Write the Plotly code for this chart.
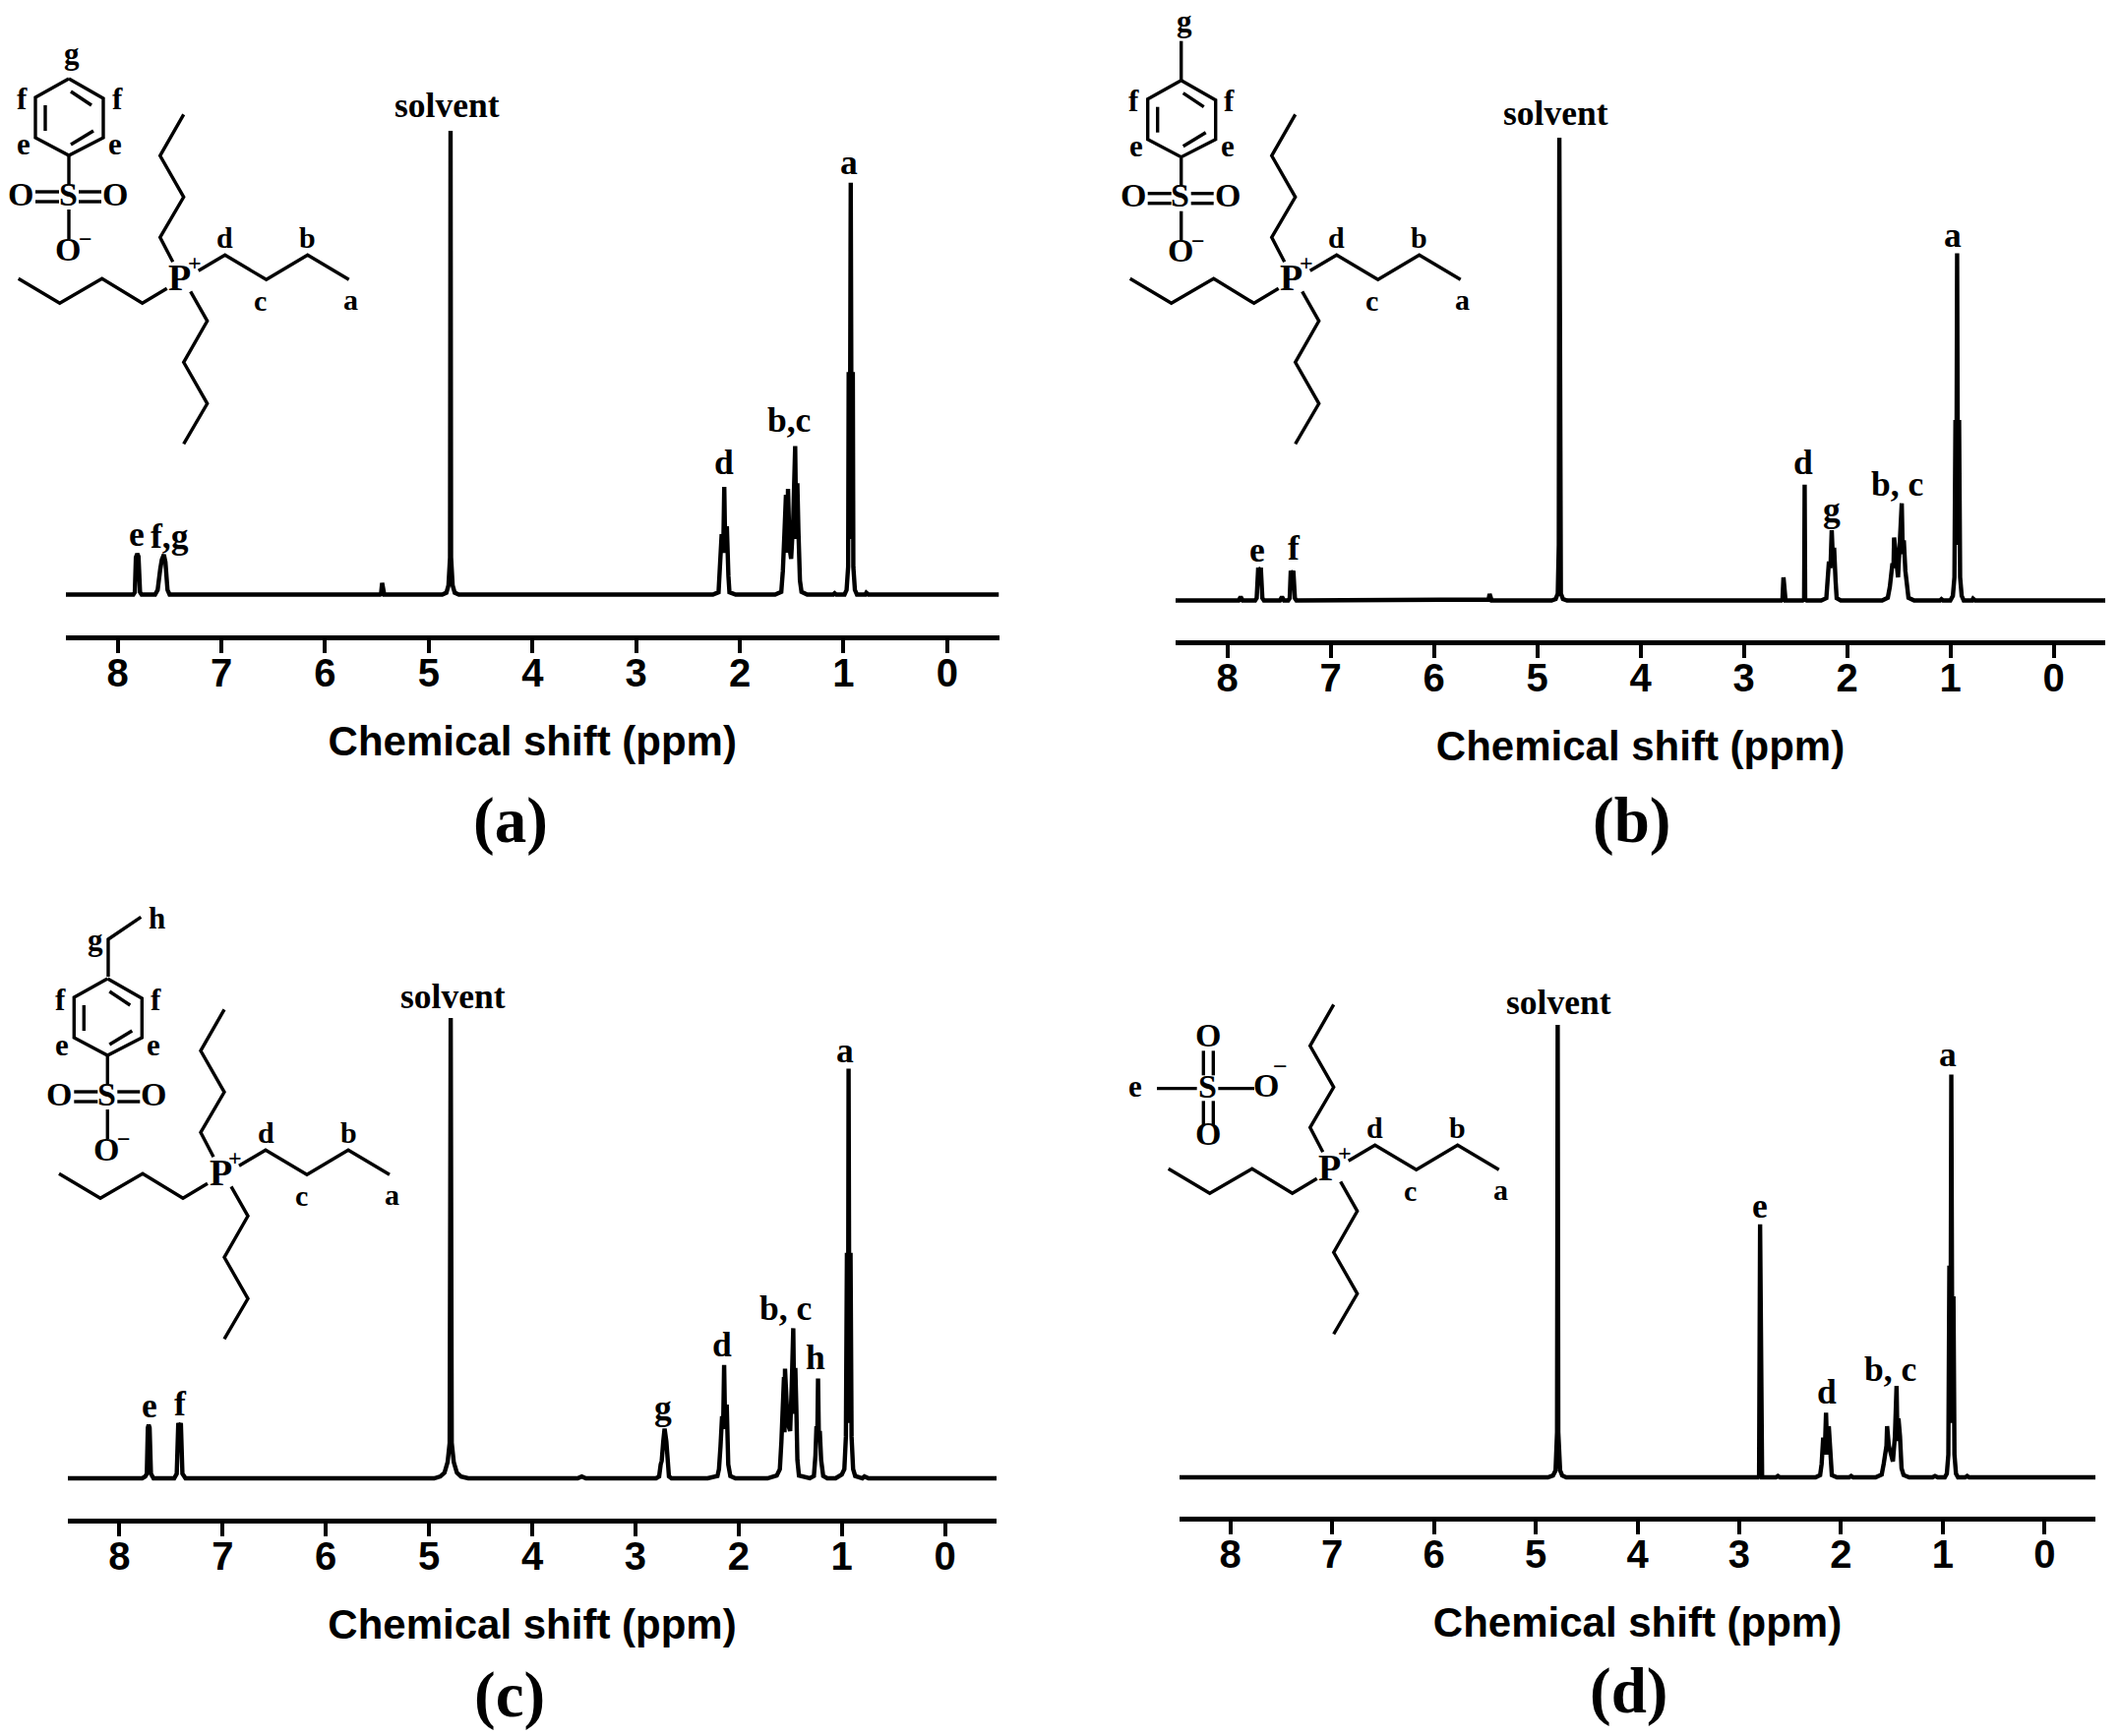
import plotly.graph_objects as go

W, H = 2155, 1765

# chemical shift (ppm) and intensity (% of the solvent peak)
ppm_a = [8.5,7.85,7.835,7.825,7.812,7.80,7.785,7.77,7.64,7.615,7.59,7.575,7.555,7.54,7.52,7.50,5.47,5.46,5.45,5.44,5.43,4.87,4.83,4.81,4.795,4.79,4.785,4.77,4.75,4.71,2.26,2.205,2.195,2.175,2.16,2.15,2.14,2.125,2.11,2.10,2.04,1.66,1.60,1.585,1.57,1.555,1.545,1.535,1.52,1.505,1.485,1.466,1.455,1.445,1.435,1.42,1.405,1.35,1.10,1.086,1.07,0.99,0.97,0.955,0.95,0.94,0.93,0.92,0.91,0.905,0.89,0.87,0.79,0.78,0.76,-0.5]
int_a = [0,0,0.5,8.0,8.8,8.2,0.5,0,0,1,5.5,7.5,8.6,7,1,0,0,0.2,2.5,0.2,0,0,0.4,2,8,100,8,2,0.4,0,0,0.5,4,13,9,23.2,9,14.7,4,0.5,0,0,0.6,5,13,21.5,9,22.8,10,7.7,16,32,12,24,14,3,0.6,0,0,0.3,0,0,1,6,48,12,88.8,12,48,6,1,0,0,0.4,0,0]

ppm_b = [8.5,7.89,7.87,7.85,7.73,7.715,7.70,7.688,7.675,7.66,7.645,7.49,7.47,7.45,7.41,7.395,7.385,7.372,7.36,7.345,7.33,5.48,5.47,5.46,5.45,5.44,4.86,4.82,4.80,4.79,4.785,4.78,4.77,4.75,4.71,2.635,2.625,2.615,2.605,2.595,2.43,2.415,2.41,2.405,2.39,2.25,2.20,2.19,2.175,2.16,2.148,2.135,2.125,2.11,2.10,2.06,1.66,1.605,1.585,1.56,1.55,1.544,1.525,1.506,1.49,1.47,1.46,1.45,1.435,1.42,1.405,1.35,1.10,1.086,1.07,1.00,0.975,0.96,0.95,0.942,0.934,0.925,0.915,0.905,0.89,0.87,0.79,0.78,0.76,-0.5]
int_b = [0,0,0.8,0,0,0.5,7.1,6.4,7.1,0.5,0,0,0.8,0,0,0.5,6.4,5.8,6.4,0.5,0,0,0.2,1.4,0.2,0,0,0.3,1.5,12,100,12,1.5,0.3,0,0,0.2,5,0.2,0,0,0.3,25,0.3,0,0,0.5,4,8.4,7,15.2,8,11.4,4,0.5,0,0,0.6,3,8,7,13.6,8,5,12,21,10,13,6.4,2,0.6,0,0,0.3,0,0,1,5,39,12,75,12,39,5,1,0,0,0.4,0,0]

ppm_c = [8.5,7.78,7.75,7.735,7.725,7.717,7.708,7.695,7.67,7.47,7.445,7.43,7.418,7.405,7.39,7.36,3.56,3.52,3.48,2.80,2.77,2.755,2.745,2.73,2.717,2.70,2.69,2.675,2.65,2.62,2.30,2.205,2.19,2.175,2.16,2.15,2.14,2.13,2.115,2.10,2.08,2.03,1.72,1.63,1.60,1.585,1.575,1.56,1.555,1.55,1.525,1.50,1.485,1.47,1.46,1.45,1.44,1.43,1.415,1.34,1.31,1.27,1.255,1.245,1.237,1.23,1.222,1.213,1.20,1.18,1.14,1.06,1.00,0.975,0.96,0.95,0.94,0.934,0.925,0.915,0.905,0.89,0.87,0.80,0.78,0.74,-0.5]
int_c = [0,0,0.4,1,11,11.6,11,1,0,0,1,12,11.4,12,1,0,0,0.4,0,0,0.4,3,3.8,8,10.8,8,3.8,0.4,0,0,0,0.5,2,7,13.5,10.7,24.6,10.7,16,3,0.5,0,0,0.6,2,8,12,22,10,23.8,12,10.3,20,32.6,14,24,15,4,0.6,0,0,0.5,5,11.3,9,21.7,9,10.3,4,0.5,0,0,0.8,2,9,49,12,89,12,49,9,2,0.5,0,0.4,0,0]
solv_c_ppm = [4.95,4.89,4.85,4.82,4.80,4.79,4.78,4.76,4.73,4.69,4.62]
solv_c_int = [0,0.4,1.2,3.5,7.7,100,7.7,3.5,1.2,0.4,0]

ppm_d = [8.5,4.88,4.83,4.805,4.79,4.784,4.778,4.76,4.74,4.70,2.815,2.805,2.795,2.785,2.775,2.64,2.62,2.60,2.25,2.205,2.19,2.175,2.16,2.147,2.135,2.12,2.105,2.09,2.04,1.92,1.90,1.88,1.66,1.60,1.58,1.56,1.553,1.547,1.53,1.49,1.47,1.454,1.445,1.435,1.42,1.405,1.385,1.33,1.10,1.076,1.05,0.98,0.96,0.945,0.935,0.925,0.916,0.905,0.895,0.885,0.87,0.85,0.78,0.76,0.74,-0.5]
int_d = [0,0,0.4,1.5,10,100,10,1.5,0.4,0,0,0.3,55.9,0.3,0,0,0.3,0,0,0.5,3,8.8,5,14.3,5,11.3,3,0.5,0,0,0.3,0,0,0.6,3,6.2,7,11.3,7,3.5,9,20.2,8,13,9,2,0.5,0,0,0.3,0,0,0.8,5,46.8,12,89,12,40,5,0.8,0,0,0.3,0,0]

# merge the solvent line of panel c into its spectrum
cut = ppm_c.index(3.56)
ppm_c = ppm_c[:cut] + solv_c_ppm + ppm_c[cut:]
int_c = int_c[:cut] + solv_c_int + int_c[cut:]

panel_names = ["a", "b", "c", "d"]
spectra_ppm = [ppm_a, ppm_b, ppm_c, ppm_d]
spectra_int = [int_a, int_b, int_c, int_d]
x_range = [8.5, -0.5]
tick_vals = [8, 7, 6, 5, 4, 3, 2, 1, 0]
axis_title = "Chemical shift (ppm)"

# frame of each panel in page pixels: left, right, solvent top, baseline, axis line
frames = [
    (67, 1015.5, 133, 604.5, 646),
    (1195, 2140, 140, 610.5, 651),
    (69, 1013, 1035, 1503, 1544),
    (1199, 2130, 1042, 1502, 1542),
]

# text labels: (text, x px, y px)
peak_labels = [
    ("solvent",454,107),("a",863,165),("b,c",802,427),("d",736,470),("e",139,543),("f,g",172,545),
    ("solvent",1581,115),("a",1985,239),("b, c",1928,492),("d",1833,470),("g",1862,518),("e",1278,559),("f",1315,557),
    ("solvent",460,1013),("a",859,1068),("b, c",798,1330),("d",734,1367),("h",829,1380),("g",674,1431),("e",151.5,1429),("f",183.6,1427),
    ("solvent",1584,1019.5),("a",1980,1072),("e",1789,1226),("b, c",1921,1392),("d",1857,1415),
]
panel_letters = [("(a)",519,834),("(b)",1658,834),("(c)",517.6,1723),("(d)",1656,1719)]

SERIF = "Liberation Serif"
SANS = "Liberation Sans"

def px(x):
    return x / W

def py(y):
    return 1 - y / H

fig = go.Figure()
layout = dict(
    width=W, height=H, margin=dict(l=0, r=0, t=0, b=0),
    paper_bgcolor="white", plot_bgcolor="white", showlegend=False,
)
for i, name in enumerate(panel_names):
    left, right, top, base, axis = frames[i]
    sfx = "" if i == 0 else str(i + 1)
    gap = (axis - base) / (base - top) * 100
    fig.add_trace(go.Scatter(
        x=spectra_ppm[i], y=spectra_int[i], mode="lines", name=f"Spectrum ({name})",
        line=dict(color="black", width=4.4, shape="linear"),
        xaxis=f"x{sfx}", yaxis=f"y{sfx}", cliponaxis=False, hoverinfo="skip",
    ))
    layout[f"xaxis{sfx}"] = dict(
        domain=[px(left), px(right)], range=x_range, anchor=f"y{sfx}",
        tickmode="array", tickvals=tick_vals, ticktext=[str(t) for t in tick_vals],
        ticks="outside", ticklen=13, tickwidth=4, tickcolor="black",
        showline=True, linewidth=4.5, linecolor="black", showgrid=False, zeroline=False,
        tickfont=dict(family=SANS, size=40, color="black", weight="bold"),
        ticklabelstandoff=-14,
        title=dict(text=axis_title, font=dict(family=SANS, size=42, color="black", weight="bold"), standoff=35),
    )
    layout[f"yaxis{sfx}"] = dict(
        domain=[py(axis), py(top)], range=[-gap, 100], anchor=f"x{sfx}",
        visible=False, showgrid=False, zeroline=False,
    )

annotations = []

def label(text, x, y, size=35.5, family=SERIF, weight="bold"):
    annotations.append(dict(
        text=text, x=px(x), y=py(y), xref="paper", yref="paper",
        xanchor="center", yanchor="middle", showarrow=False,
        font=dict(family=family, size=size, color="black", weight=weight),
    ))

for t, x, y in peak_labels:
    label(t, x, y)
for t, x, y in panel_letters:
    label(t, x, y, size=65)

shapes = []

def path(points):
    d = "M" + "L".join(f"{px(x):.5f},{py(y):.5f}" for x, y in points)
    shapes.append(dict(type="path", path=d, xref="paper", yref="paper",
                       line=dict(color="black", width=3.4)))

# tetrabutylphosphonium, offsets from the P atom in pixels
CHAINS = [
    [(-7,-17),(-20,-42),(4,-83),(-20,-125),(4,-167)],
    [(-13,10),(-38,25),(-79,0),(-122,25),(-164,0)],
    [(11,13),(28,43),(4,85),(28,127),(4,168)],
    [(19,-8),(46,-24),(88,1),(130,-24),(172,1)],
]
CATION_LABELS = [("d",46,-42),("b",130,-42),("c",82,22),("a",174,21)]

def cation(px0, py0):
    for ch in CHAINS:
        path([(px0 + x, py0 + y) for x, y in ch])
    label("P", px0, py0 - 1, size=38)
    label("+", px0 + 15, py0 - 16, size=24)
    for t, x, y in CATION_LABELS:
        label(t, px0 + x, py0 + y, size=30)

# aryl sulfonate, offsets from the top ring carbon in pixels
RING = [(0,0),(35,20),(35,60),(0,78),(-34,60),(-34,19),(0,0)]
INNER = [[(2,13),(23,27)],[(-24,27),(-24,53)],[(2,67),(25,53)]]
STEM = [[(0,79),(0,107)],[(0,133),(0,163)]]
DOUBLE = [[(-34,115),(-10,115)],[(-34,125),(-10,125)],[(10,115),(33,115)],[(10,125),(33,125)]]

def anion(x0, y0, g_xy):
    path([(x0 + x, y0 + y) for x, y in RING])
    for seg in INNER + STEM + DOUBLE:
        path([(x0 + x, y0 + y) for x, y in seg])
    label("S", x0 - 1, y0 + 117, size=34)
    label("O", x0 - 49, y0 + 117, size=34)
    label("O", x0 + 47, y0 + 117, size=34)
    label("O", x0 - 1, y0 + 173, size=34)
    label("−", x0 + 17, y0 + 163, size=24)
    for t, x, y in [("f",-48,21),("f",49,21),("e",-46,67),("e",47,67)]:
        label(t, x0 + x, y0 + y, size=31)
    if g_xy:
        label("g", x0 + g_xy[0], y0 + g_xy[1], size=31)

cation(182.7, 283.3)
anion(70, 80, (3, -25))

cation(1312.7, 283.3)
anion(1200.7, 81.7, (3, -60))
path([(1200.7, 41.7), (1200.7, 81.7)])

cation(224, 1193.3)
anion(109.3, 995, None)
path([(110, 993), (110, 955), (143.3, 932.3)])
label("g", 96.7, 955, size=31)
label("h", 159, 933.3, size=31)

cation(1351.7, 1188.3)
dx, dy = 1130, 1000
for seg in [
    [(138,320),(260,320)], [(325,320),(435,320)],
    [(280,205),(280,280)], [(310,205),(310,280)],
    [(280,358),(280,432)], [(310,358),(310,432)],
]:
    path([(dx + x / 3, dy + y / 3) for x, y in seg])
for t, x, y, s in [("S",292,313,34),("O",293,158,34),("O",293,458,34),("O",472,311,34),("−",513,252,26),("e",73,313,31)]:
    label(t, dx + x / 3, dy + y / 3, size=s)

layout["annotations"] = annotations
layout["shapes"] = shapes
fig.update_layout(**layout)

fig.write_html(
    "out.html",
    config={"displayModeBar": False},
    post_script="document.body.style.margin='0';document.documentElement.style.overflow='hidden';",
)
